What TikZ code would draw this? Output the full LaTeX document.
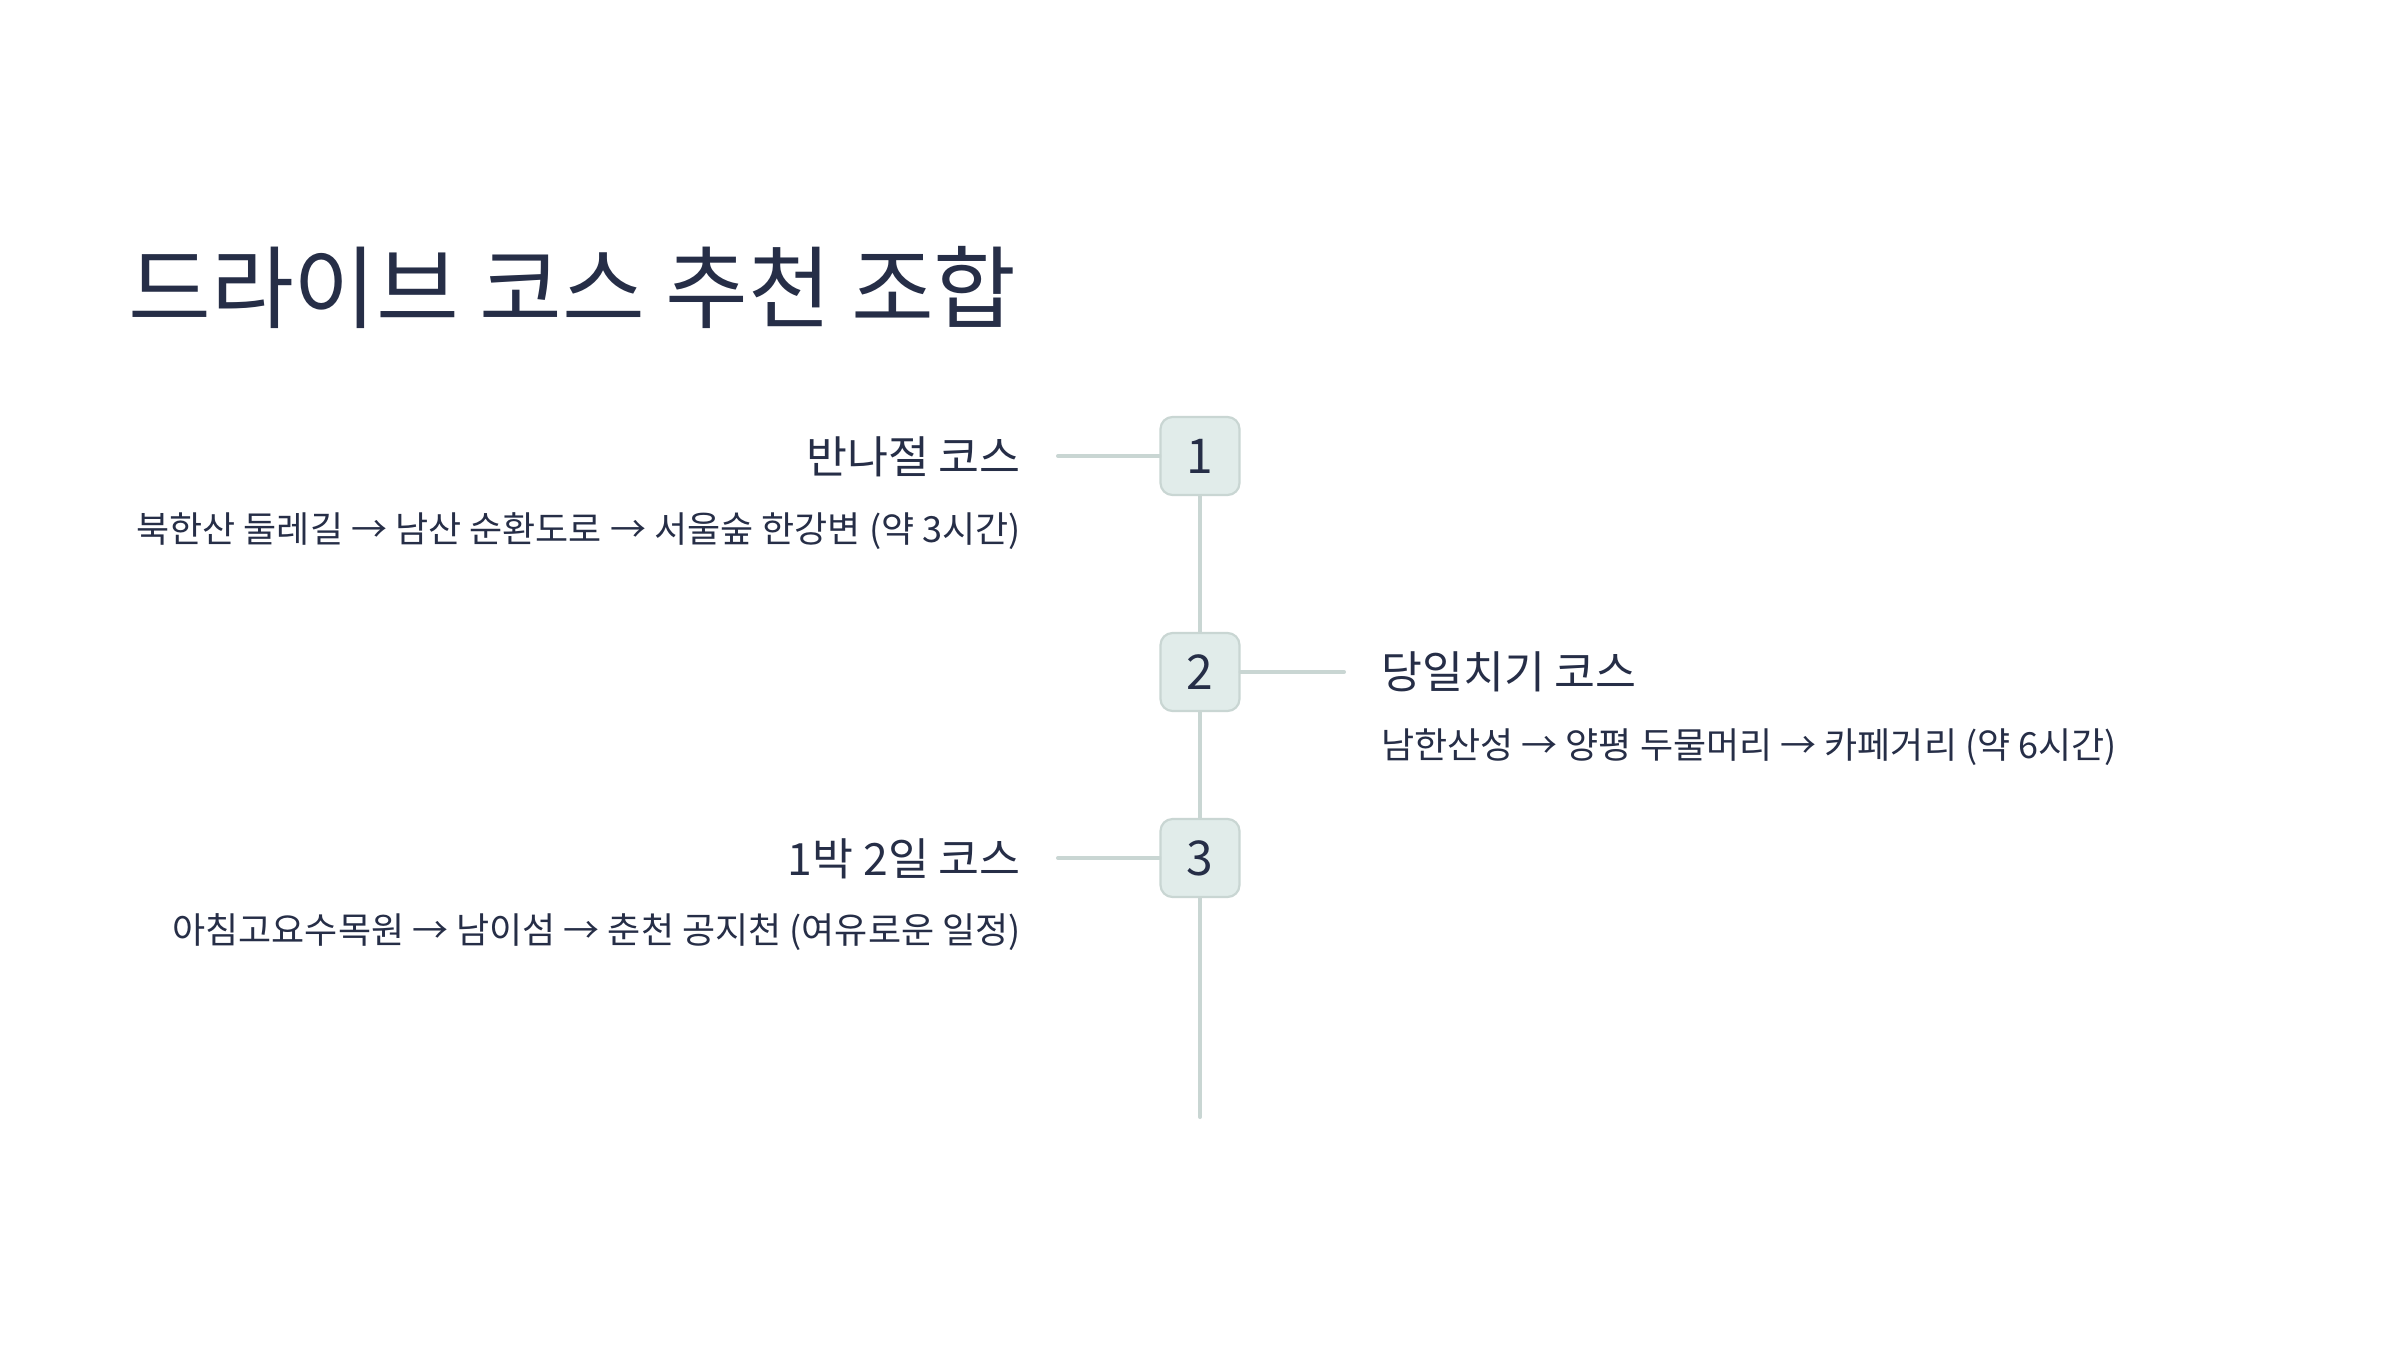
\documentclass[tikz,border=0pt]{standalone}
\usepackage{fontspec}
\setmainfont{Noto Sans CJK KR}
\definecolor{ink}{HTML}{262E47}
\definecolor{boxfill}{HTML}{E1ECEA}
\definecolor{boxline}{HTML}{C9D6D3}
\begin{document}
\begin{tikzpicture}[x=1pt,y=-1pt,
  numbox/.style={draw=boxline,fill=boxfill,line width=2.2pt,rounded corners=12pt,minimum width=79pt,minimum height=78pt,inner sep=0pt,text=ink,font=\fontsize{48}{52}\selectfont},
  conn/.style={draw=boxline,line width=4pt,line cap=round},
  head/.style={inner sep=0pt,text=ink,font=\fontsize{44.5}{50}\selectfont},
  desc/.style={inner sep=0pt,text=ink,font=\fontsize{36}{40}\selectfont},
  ttl/.style={inner sep=0pt,text=ink,font=\fontsize{90}{100}\selectfont}]
\useasboundingbox (0,0) rectangle (2400,1350);
\fill[white] (0,0) rectangle (2400,1350);
\node[ttl,anchor=west] (title) at (128,287) {드라이브 코스 추천 조합};
\coordinate (c1) at (1058,456);
\coordinate (c2) at (1344,672);
\coordinate (c3) at (1058,858);
\coordinate (tail) at (1200,1117);
\node[numbox] (b1) at (1200,456) {1};
\node[numbox] (b2) at (1200,672) {2};
\node[numbox] (b3) at (1200,858) {3};
\draw[conn] (c1) -- (b1.west);
\draw[conn] (b2.east) -- (c2);
\draw[conn] (c3) -- (b3.west);
\draw[conn] (b1.south) -- (b2.north);
\draw[conn] (b2.south) -- (b3.north);
\draw[conn] (b3.south) -- (tail);
\node[head,anchor=east] (h1) at (1021,457) {반나절 코스};
\node[desc,anchor=east] (d1) at (1021,531) {북한산 둘레길 → 남산 순환도로 → 서울숲 한강변 (약 3시간)};
\node[head,anchor=west] (h2) at (1381,672) {당일치기 코스};
\node[desc,anchor=west] (d2) at (1381,747) {남한산성 → 양평 두물머리 → 카페거리 (약 6시간)};
\node[head,anchor=east] (h3) at (1021,859) {1박 2일 코스};
\node[desc,anchor=east] (d3) at (1021,932) {아침고요수목원 → 남이섬 → 춘천 공지천 (여유로운 일정)};
\end{tikzpicture}
\end{document}
